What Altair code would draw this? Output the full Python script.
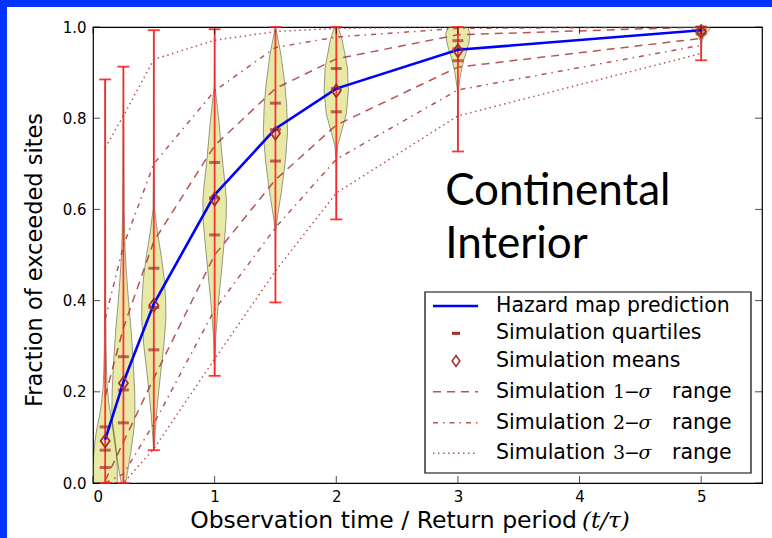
import altair as alt
import pandas as pd

# Observation times (t / tau) at which the simulations were run
T = [0.1, 0.25, 0.5, 1.0, 1.5, 2.0, 3.0, 5.0]

# Hazard map prediction and simulation summaries
HAZARD = [0.095, 0.221, 0.393, 0.632, 0.777, 0.865, 0.950, 0.993]
MEANS = [0.092, 0.219, 0.390, 0.623, 0.767, 0.860, 0.948, 0.990]
Q1 = [0.034, 0.132, 0.292, 0.544, 0.706, 0.814, 0.926, 0.985]
Q2 = [0.072, 0.204, 0.385, 0.625, 0.775, 0.865, 0.952, 0.993]
Q3 = [0.123, 0.277, 0.471, 0.703, 0.833, 0.909, 0.970, 1.000]
SIM_MIN = [0.0, 0.0, 0.072, 0.235, 0.396, 0.578, 0.727, 0.927]
SIM_MAX = [0.885, 0.913, 0.993, 0.995, 1.0, 1.0, 1.0, 1.0]

# Simulation sigma ranges (upper / lower bounds)
UP1 = [0.19, 0.34, 0.53, 0.74, 0.865, 0.93, 0.983, 1.0]
LO1 = [0.005, 0.09, 0.23, 0.50, 0.665, 0.785, 0.912, 0.975]
UP2 = [0.36, 0.52, 0.70, 0.86, 0.955, 0.978, 0.997, 1.0]
LO2 = [0.0, 0.02, 0.13, 0.38, 0.56, 0.71, 0.862, 0.96]
UP3 = [0.735, 0.805, 0.929, 0.971, 0.99, 0.997, 1.0, 1.0]
LO3 = [0.0, 0.0, 0.075, 0.272, 0.465, 0.636, 0.805, 0.942]

# Violin outlines: levels and relative density (1 = widest) for each t
VIOLIN_Y = [
    [0.0, 0.03, 0.06, 0.09, 0.12, 0.15, 0.18, 0.21, 0.25, 0.30, 0.40, 0.55, 0.70, 0.885],
    [0.0, 0.03, 0.07, 0.12, 0.16, 0.20, 0.26, 0.33, 0.40, 0.46, 0.51, 0.60, 0.75, 0.913],
    [0.072, 0.10, 0.15, 0.20, 0.25, 0.30, 0.36, 0.40, 0.45, 0.50, 0.55, 0.60, 0.70, 0.85, 0.993],
    [0.235, 0.32, 0.39, 0.47, 0.54, 0.58, 0.62, 0.65, 0.70, 0.75, 0.80, 0.87, 0.93, 0.995],
    [0.396, 0.50, 0.55, 0.58, 0.64, 0.71, 0.77, 0.83, 0.88, 0.94, 0.99, 1.0],
    [0.578, 0.65, 0.71, 0.74, 0.77, 0.81, 0.86, 0.91, 0.97, 1.0],
    [0.727, 0.80, 0.855, 0.87, 0.90, 0.93, 0.95, 0.965, 0.985, 1.0],
    [0.927, 0.95, 0.97, 0.98, 0.99, 1.0],
]
VIOLIN_D = [
    [1.0, 1.0, 0.95, 0.85, 0.68, 0.45, 0.28, 0.17, 0.11, 0.07, 0.045, 0.03, 0.02, 0.0],
    [0.18, 0.38, 0.62, 0.88, 0.95, 0.93, 0.82, 0.65, 0.42, 0.25, 0.14, 0.06, 0.03, 0.0],
    [0.0, 0.08, 0.22, 0.40, 0.60, 0.82, 1.0, 0.98, 0.85, 0.60, 0.30, 0.06, 0.02, 0.01, 0.0],
    [0.0, 0.09, 0.29, 0.58, 0.83, 0.95, 0.97, 0.88, 0.67, 0.50, 0.33, 0.03, 0.01, 0.0],
    [0.0, 0.01, 0.03, 0.14, 0.50, 0.83, 1.0, 0.92, 0.75, 0.45, 0.08, 0.0],
    [0.0, 0.01, 0.03, 0.12, 0.42, 0.83, 1.0, 0.92, 0.50, 0.15],
    [0.0, 0.01, 0.03, 0.08, 0.25, 0.50, 0.75, 0.90, 1.0, 0.80],
    [0.0, 0.02, 0.08, 0.25, 0.55, 0.85],
]

X_TICKS = [0, 1, 2, 3, 4, 5]
Y_TICKS = [0.0, 0.2, 0.4, 0.6, 0.8, 1.0]
X_DOMAIN = [0, 5.5]
Y_DOMAIN = [0, 1]

# Styling
HALF_WIDTH = 0.1
W, H = 669, 456
SANS = "DejaVu Sans"
SERIF = "DejaVu Serif"
BROWN = "#a52a2a"
RED = "#ff2020"
BLUE = "#0000ff"
FRAME_BLUE = "#0433ff"
SIGMA_DASH = {"1": [8, 6], "2": [5, 5, 1.5, 5], "3": [1.5, 3.5]}

xs = alt.Scale(domain=X_DOMAIN, nice=False, zero=False)
ys = alt.Scale(domain=Y_DOMAIN, nice=False, zero=False)
X_AXIS = alt.Axis(values=X_TICKS, format="d", title=None, grid=False, domain=False, ticks=False,
                  labelFont=SANS, labelFontSize=15, labelPadding=6, labelColor="black")
Y_AXIS = alt.Axis(values=Y_TICKS, format=".1f", title=None, grid=False, domain=False, ticks=False,
                  labelFont=SANS, labelFontSize=15, labelPadding=7, labelColor="black")

summary = pd.DataFrame({
    "t": T, "hazard": HAZARD, "mean": MEANS, "q1": Q1, "q2": Q2, "q3": Q3,
    "lo": SIM_MIN, "hi": SIM_MAX,
})

violin_rows = []
for i, (t, levels, dens) in enumerate(zip(T, VIOLIN_Y, VIOLIN_D)):
    for y, d in zip(levels, dens):
        violin_rows.append({"group": f"v{i}", "y": y,
                            "left": t - HALF_WIDTH * d, "right": t + HALF_WIDTH * d})
violins = pd.DataFrame(violin_rows)

sigma_rows = []
for band, side, vals in [("1", "upper", UP1), ("1", "lower", LO1),
                         ("2", "upper", UP2), ("2", "lower", LO2),
                         ("3", "upper", UP3), ("3", "lower", LO3)]:
    for t, v in zip(T, vals):
        sigma_rows.append({"t": t, "value": v, "band": band, "curve": band + side})
sigma = pd.DataFrame(sigma_rows)

quartiles = pd.DataFrame({"t": T * 3, "value": Q1 + Q2 + Q3})
caps = pd.DataFrame({"t": T * 2, "value": SIM_MIN + SIM_MAX})
x_ticks = pd.DataFrame({"x": X_TICKS})
y_ticks = pd.DataFrame({"y": Y_TICKS})

one = pd.DataFrame({"k": [0]})


def X(field, **kw):
    return alt.X(field, scale=xs, axis=X_AXIS, **kw)


def Y(field, **kw):
    return alt.Y(field, scale=ys, axis=Y_AXIS, **kw)


def text_at(px, py, txt, size, font=SANS, align="left", style="normal", angle=0, baseline="middle"):
    kw = dict(align=align, baseline=baseline, font=font, fontSize=size, color="black", fontStyle=style)
    if angle:
        kw["angle"] = angle
    return alt.Chart(one).mark_text(**kw).encode(
        x=alt.value(px), y=alt.value(py), text=alt.value(txt))


# Blue frame strips along the top and left edges of the figure
frame_top = alt.Chart(one).mark_rect(color=FRAME_BLUE).encode(
    x=alt.value(-93), x2=alt.value(W + 10), y=alt.value(-27), y2=alt.value(-20))
frame_left = alt.Chart(one).mark_rect(color=FRAME_BLUE).encode(
    x=alt.value(-93), x2=alt.value(-86), y=alt.value(-27), y2=alt.value(H + 55))

# Violins: one horizontal ranged area per observation time
violin_layer = alt.Chart(violins).mark_area(
    orient="horizontal", fill="#bfbf00", fillOpacity=0.35,
    stroke="#000000", strokeOpacity=0.38, strokeWidth=1, clip=True
).encode(
    y=Y("y:Q"),
    x=X("left:Q", stack=None),
    x2=alt.X2("right:Q"),
    detail=alt.Detail("group:N"),
)

sigma_layer = alt.Chart(sigma).mark_line(strokeWidth=1.5, opacity=0.8, clip=True).encode(
    x=X("t:Q"), y=Y("value:Q"), detail="curve:N",
    color=alt.value(BROWN),
    strokeDash=alt.StrokeDash("band:N", legend=None, scale=alt.Scale(
        domain=list(SIGMA_DASH.keys()), range=list(SIGMA_DASH.values()))),
)

bars = alt.Chart(summary).mark_rule(color=RED, strokeWidth=1.8, opacity=0.9).encode(
    x=X("t:Q"), y=Y("lo:Q"), y2="hi:Q")
cap_layer = alt.Chart(caps).mark_tick(orient="horizontal", color=RED, size=12, thickness=1.8, opacity=0.9).encode(
    x=X("t:Q"), y=Y("value:Q"))

quart_layer = alt.Chart(quartiles).mark_tick(orient="horizontal", color=BROWN, size=11, thickness=3).encode(
    x=X("t:Q"), y=Y("value:Q"))

hazard_line = alt.Chart(summary).mark_line(color=BLUE, strokeWidth=2.6).encode(
    x=X("t:Q"), y=Y("hazard:Q"))

DIAMOND = "M0,-1L0.7,0L0,1L-0.7,0Z"
mean_layer = alt.Chart(summary).mark_point(
    shape=DIAMOND, size=169, filled=False, stroke=BROWN, strokeWidth=1.7, opacity=1
).encode(x=X("t:Q"), y=Y("mean:Q"))

# Inward ticks on all four spines
tick_bottom = alt.Chart(x_ticks).mark_tick(orient="vertical", size=7, thickness=1, color="black", yOffset=-3.5).encode(
    x=X("x:Q"), y=alt.value(H))
tick_top = alt.Chart(x_ticks).mark_tick(orient="vertical", size=7, thickness=1, color="black", yOffset=3.5).encode(
    x=X("x:Q"), y=alt.value(0))
tick_left = alt.Chart(y_ticks).mark_tick(orient="horizontal", size=7, thickness=1, color="black", xOffset=3.5).encode(
    y=Y("y:Q"), x=alt.value(0))
tick_right = alt.Chart(y_ticks).mark_tick(orient="horizontal", size=7, thickness=1, color="black", xOffset=-3.5).encode(
    y=Y("y:Q"), x=alt.value(W))

# Region label
region = alt.Chart(pd.DataFrame({
    "x": [2.895, 2.895], "y": [0.610, 0.493], "label": ["Continental", "Interior"]
})).mark_text(align="left", baseline="alphabetic", font="Lato", fontSize=44, color="black").encode(
    x=X("x:Q"), y=Y("y:Q"), text="label:N")

# Axis titles
x_title_a = text_at(484, 494, "Observation time / Return period", 23.5, align="right")
x_title_b = text_at(489, 494, "(t/τ)", 23, font=SERIF, style="italic")
y_title = text_at(-58, 233, "Fraction of exceeded sites", 22.5, align="center", angle=270)

# Legend
LX0, LX1, TX = 340, 385, 403
ROWS = [279, 306.3, 334, 364.7, 395.7, 426.3]
legend_box = alt.Chart(one).mark_rect(fill="white", stroke="black", strokeWidth=1.2).encode(
    x=alt.value(332), x2=alt.value(658), y=alt.value(265), y2=alt.value(446))
leg_hazard = alt.Chart(one).mark_rule(color=BLUE, strokeWidth=2.6).encode(
    x=alt.value(LX0), x2=alt.value(LX1), y=alt.value(ROWS[0]))
leg_quart = alt.Chart(one).mark_rule(color=BROWN, strokeWidth=3).encode(
    x=alt.value(359), x2=alt.value(367), y=alt.value(ROWS[1]))
leg_mean = alt.Chart(one).mark_point(
    shape=DIAMOND, size=121, filled=False, stroke=BROWN, strokeWidth=1.5, opacity=1
).encode(x=alt.value(363), y=alt.value(ROWS[2]))
leg_sigma = [
    alt.Chart(one).mark_rule(color=BROWN, strokeWidth=1.5, opacity=0.8, strokeDash=SIGMA_DASH[b]).encode(
        x=alt.value(LX0), x2=alt.value(LX1), y=alt.value(ROWS[3 + i]))
    for i, b in enumerate(["1", "2", "3"])
]
leg_text = [
    text_at(TX, ROWS[0], "Hazard map prediction", 20.5),
    text_at(TX, ROWS[1], "Simulation quartiles", 20.5),
    text_at(TX, ROWS[2], "Simulation means", 20.5),
]
for i, n in enumerate(["1", "2", "3"]):
    r = ROWS[3 + i]
    leg_text += [
        text_at(TX, r, "Simulation", 20.5),
        text_at(526, r, n, 19, font=SERIF, align="center"),
        text_at(539, r, "−", 19, align="center"),
        text_at(552, r, "σ", 19, font=SERIF, style="italic", align="center"),
        text_at(579, r, "range", 20.5),
    ]

chart = alt.layer(
    frame_top, frame_left,
    violin_layer, sigma_layer, bars, cap_layer, quart_layer, hazard_line, mean_layer,
    tick_bottom, tick_top, tick_left, tick_right,
    region, x_title_a, x_title_b, y_title,
    legend_box, leg_hazard, leg_quart, leg_mean, *leg_sigma, *leg_text,
).properties(
    width=W, height=H,
    padding={"left": 93, "top": 27, "right": 10, "bottom": 55},
    autosize=alt.AutoSizeParams(type="none"),
    background="white",
).configure_view(stroke="black", strokeWidth=1.2)

chart.save("out.html", embed_options={"renderer": "svg", "actions": False})
